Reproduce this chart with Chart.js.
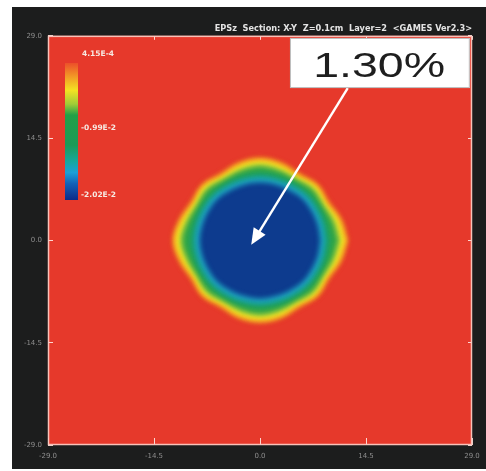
<!DOCTYPE html>
<html>
<head>
<meta charset="utf-8">
<script src="https://cdn.jsdelivr.net/npm/chart.js@4.4.1/dist/chart.umd.min.js"></script>
<style>
  html, body { margin: 0; padding: 0; background: #ffffff; }
  canvas { display: block; }
</style>
</head>
<body>
<canvas id="chart" width="486" height="471"></canvas>
<script>
// Axis ticks (cm)
const X_TICKS = [-29.0, -14.5, 0.0, 14.5, 29.0];
const Y_TICKS = [-29.0, -14.5, 0.0, 14.5, 29.0];

// Contour outlines: radius (cm) of each strain level, every 15 degrees from +x, counter-clockwise
const ANGLES_DEG = [0, 15, 30, 45, 60, 75, 90, 105, 120, 135, 150, 165, 180, 195, 210, 225, 240, 255, 270, 285, 300, 315, 330, 345];
const R_LEVEL_1 = [12.1, 11.65, 11.0, 11.3, 11.0, 11.5, 11.8, 11.5, 11.0, 11.3, 11.0, 11.55, 12.0, 11.55, 11.0, 11.3, 11.0, 11.5, 11.75, 11.5, 11.0, 11.3, 11.0, 11.6];
const R_LEVEL_2 = [11.85, 11.35, 10.7, 11.0, 10.7, 11.2, 11.5, 11.2, 10.7, 11.0, 10.7, 11.25, 11.75, 11.25, 10.7, 11.0, 10.7, 11.2, 11.45, 11.2, 10.7, 11.0, 10.7, 11.3];
const R_LEVEL_3 = [11.55, 11.05, 10.4, 10.75, 10.4, 10.9, 11.2, 10.9, 10.4, 10.75, 10.4, 10.95, 11.45, 10.95, 10.4, 10.75, 10.4, 10.9, 11.15, 10.9, 10.4, 10.75, 10.4, 11.0];
const R_LEVEL_4 = [11.0, 10.6, 10.1, 10.4, 10.1, 10.45, 10.75, 10.45, 10.1, 10.4, 10.1, 10.5, 10.95, 10.5, 10.1, 10.4, 10.1, 10.45, 10.7, 10.45, 10.1, 10.4, 10.1, 10.55];
const R_LEVEL_5 = [10.6, 10.2, 9.85, 10.1, 9.85, 10.1, 10.4, 10.1, 9.85, 10.1, 9.85, 10.15, 10.55, 10.15, 9.85, 10.1, 9.85, 10.1, 10.35, 10.1, 9.85, 10.1, 9.85, 10.15];
const R_LEVEL_6 = [9.45, 9.3, 9.25, 9.3, 9.25, 9.3, 9.4, 9.3, 9.25, 9.3, 9.25, 9.3, 9.45, 9.3, 9.25, 9.3, 9.25, 9.3, 9.4, 9.3, 9.25, 9.3, 9.25, 9.3];
const R_LEVEL_7 = [8.8, 8.75, 8.75, 8.85, 8.75, 8.75, 8.8, 8.75, 8.75, 8.85, 8.75, 8.75, 8.8, 8.75, 8.75, 8.85, 8.75, 8.75, 8.8, 8.75, 8.75, 8.85, 8.75, 8.75];
const R_LEVEL_8 = [8.15, 8.1, 8.1, 8.2, 8.1, 8.1, 8.15, 8.1, 8.1, 8.2, 8.1, 8.1, 8.15, 8.1, 8.1, 8.2, 8.1, 8.1, 8.15, 8.1, 8.1, 8.2, 8.1, 8.1];

// Colour bar
const CBAR_LABELS = ['4.15E-4', '-0.99E-2', '-2.02E-2'];

// Callout
const CALLOUT_TEXT = '1.30%';
const CALLOUT_BOX = [4.1, 28.7, 28.7, 21.6];   // x1, y1, x2, y2 (cm)
const CALLOUT_TEXT_AT = [16.3, 23.2];          // centre x, baseline y (cm)
const ARROW_FROM = [12.0, 21.6];
const ARROW_TO = [-1.2, -0.6];

const TITLE = 'EPSz  Section: X-Y  Z=0.1cm  Layer=2  <GAMES Ver2.3>';

// ---- styling ----
const LEVEL_RADII = [R_LEVEL_1, R_LEVEL_2, R_LEVEL_3, R_LEVEL_4, R_LEVEL_5, R_LEVEL_6, R_LEVEL_7, R_LEVEL_8];
const LEVEL_COLORS = ['#ee6a2a', '#f4a524', '#f5e423', '#b3d236', '#2ea549', '#179f78', '#1fa3c2', '#0d3b8e'];
const PLOT_RED = '#e6392b';
const PANEL_DARK = '#1c1d1d';

function outline(radii) {
  // close the loop by returning to the first angle
  const pts = ANGLES_DEG.map((a, i) => {
    const t = a * Math.PI / 180;
    return { x: radii[i] * Math.cos(t), y: radii[i] * Math.sin(t) };
  });
  pts.push(pts[0]);
  return pts;
}

// innermost level first so that it is drawn on top
const datasets = LEVEL_RADII.map((r, i) => ({
  data: outline(r),
  showLine: true,
  fill: 'shape',
  backgroundColor: LEVEL_COLORS[i],
  borderColor: LEVEL_COLORS[i],
  borderWidth: 1,
  pointRadius: 0,
  tension: 0.35
})).reverse();

const fieldPlugin = {
  id: 'field',
  beforeDraw(chart) {
    const { ctx, chartArea: a } = chart;
    ctx.save();
    ctx.fillStyle = '#ffffff';
    ctx.fillRect(0, 0, chart.width, chart.height);
    ctx.fillStyle = PANEL_DARK;
    ctx.fillRect(12, 7, chart.width - 12, chart.height - 9);
    ctx.fillStyle = PLOT_RED;
    ctx.fillRect(a.left, a.top, a.right - a.left, a.bottom - a.top);
    ctx.restore();
  },
  beforeDatasetsDraw(chart) {
    chart.ctx.save();
    chart.ctx.filter = 'blur(2px)';
  },
  afterDatasetsDraw(chart) {
    const { ctx, chartArea: a, scales } = chart;
    ctx.restore();
    const px = v => scales.x.getPixelForValue(v);
    const py = v => scales.y.getPixelForValue(v);

    // plot frame
    ctx.save();
    ctx.strokeStyle = 'rgba(250, 200, 192, 0.95)';
    ctx.lineWidth = 1.5;
    ctx.strokeRect(a.left + 0.5, a.top + 0.5, a.right - a.left - 1, a.bottom - a.top - 1);
    ctx.restore();

    // colour bar
    ctx.save();
    const bx = 65, bw = 13, by0 = 63, by1 = 200;
    const g = ctx.createLinearGradient(0, by0, 0, by1);
    g.addColorStop(0.00, '#ec4f2a');
    g.addColorStop(0.10, '#f29a26');
    g.addColorStop(0.20, '#f3e223');
    g.addColorStop(0.30, '#9fcc38');
    g.addColorStop(0.38, '#22a047');
    g.addColorStop(0.60, '#1b9a58');
    g.addColorStop(0.72, '#16a79e');
    g.addColorStop(0.80, '#1c9fd6');
    g.addColorStop(0.88, '#1262b8');
    g.addColorStop(1.00, '#0c2a88');
    ctx.fillStyle = g;
    ctx.fillRect(bx, by0, bw, by1 - by0);
    ctx.fillStyle = '#f7e9e2';
    ctx.font = 'bold 7.5px "DejaVu Sans"';
    ctx.textAlign = 'left';
    ctx.textBaseline = 'middle';
    ctx.fillText(CBAR_LABELS[0], 82, 54);
    ctx.fillText(CBAR_LABELS[1], 81, 128);
    ctx.fillText(CBAR_LABELS[2], 81, 195);
    ctx.restore();

    // callout arrow
    ctx.save();
    const x0 = px(ARROW_FROM[0]), y0 = py(ARROW_FROM[1]);
    const x1 = px(ARROW_TO[0]), y1 = py(ARROW_TO[1]);
    const ang = Math.atan2(y1 - y0, x1 - x0);
    const headLen = 16, headHalf = 7;
    ctx.strokeStyle = '#ffffff';
    ctx.fillStyle = '#ffffff';
    ctx.lineWidth = 2.4;
    ctx.beginPath();
    ctx.moveTo(x0, y0);
    ctx.lineTo(x1 - Math.cos(ang) * headLen * 0.8, y1 - Math.sin(ang) * headLen * 0.8);
    ctx.stroke();
    ctx.beginPath();
    ctx.moveTo(x1, y1);
    ctx.lineTo(x1 - Math.cos(ang) * headLen - Math.sin(ang) * headHalf, y1 - Math.sin(ang) * headLen + Math.cos(ang) * headHalf);
    ctx.lineTo(x1 - Math.cos(ang) * headLen + Math.sin(ang) * headHalf, y1 - Math.sin(ang) * headLen - Math.cos(ang) * headHalf);
    ctx.closePath();
    ctx.fill();
    ctx.restore();

    // callout box and text
    ctx.save();
    const bx1 = px(CALLOUT_BOX[0]), by1b = py(CALLOUT_BOX[1]);
    const bx2 = px(CALLOUT_BOX[2]), by2 = py(CALLOUT_BOX[3]);
    ctx.fillStyle = '#ffffff';
    ctx.fillRect(bx1, by1b, bx2 - bx1, by2 - by1b);
    ctx.strokeStyle = '#bdbdbd';
    ctx.lineWidth = 1;
    ctx.strokeRect(bx1 + 0.5, by1b + 0.5, bx2 - bx1 - 1, by2 - by1b - 1);
    ctx.translate(px(CALLOUT_TEXT_AT[0]), py(CALLOUT_TEXT_AT[1]));
    ctx.scale(1.33, 1);
    ctx.fillStyle = '#1e1e1e';
    ctx.font = '35px "Liberation Sans"';
    ctx.textAlign = 'center';
    ctx.textBaseline = 'alphabetic';
    ctx.fillText(CALLOUT_TEXT, 0, 0);
    ctx.restore();
  }
};

const tickFont = { family: 'DejaVu Sans', size: 7 };
const tickColor = '#8e8e8e';
const markColor = 'rgba(255, 232, 226, 0.9)';
const fmt = v => Number(v).toFixed(1);
// end labels may overhang the frame without shrinking the plot
const noOverhang = s => { s.paddingLeft = 0; s.paddingRight = 0; s.paddingTop = 0; s.paddingBottom = 0; };

new Chart(document.getElementById('chart'), {
  type: 'scatter',
  data: { datasets },
  options: {
    responsive: false,
    devicePixelRatio: 1,
    animation: false,
    events: [],
    layout: { padding: { left: 12, right: 14, top: 24.4, bottom: 6 } },
    plugins: {
      legend: { display: false },
      tooltip: { enabled: false },
      title: {
        display: true,
        text: TITLE,
        align: 'end',
        color: '#e4e4e4',
        font: { family: 'DejaVu Sans', size: 8.2, weight: 'bold', lineHeight: 1.2 },
        padding: { top: 0, bottom: 1.6 }
      }
    },
    scales: {
      x: {
        type: 'linear', position: 'bottom', min: -29, max: 29,
        afterBuildTicks: s => { s.ticks = X_TICKS.map(v => ({ value: v })); },
        afterFit: s => { s.height = 20; noOverhang(s); },
        ticks: { callback: fmt, color: tickColor, font: tickFont, padding: 14, maxRotation: 0 },
        grid: { drawOnChartArea: false, drawTicks: true, tickLength: -7, color: markColor },
        border: { display: false }
      },
      x2: {
        type: 'linear', position: 'top', min: -29, max: 29,
        afterBuildTicks: s => { s.ticks = X_TICKS.map(v => ({ value: v })); },
        afterFit: s => { s.height = 0; noOverhang(s); },
        ticks: { display: false },
        grid: { drawOnChartArea: false, drawTicks: true, tickLength: -4, color: markColor },
        border: { display: false }
      },
      y: {
        type: 'linear', position: 'left', min: -29, max: 29,
        afterBuildTicks: s => { s.ticks = Y_TICKS.map(v => ({ value: v })); },
        afterFit: s => { s.width = 36; noOverhang(s); },
        ticks: { callback: fmt, color: tickColor, font: tickFont, padding: 11 },
        grid: { drawOnChartArea: false, drawTicks: true, tickLength: -5, color: markColor },
        border: { display: false }
      },
      y2: {
        type: 'linear', position: 'right', min: -29, max: 29,
        afterBuildTicks: s => { s.ticks = Y_TICKS.map(v => ({ value: v })); },
        afterFit: s => { s.width = 0; noOverhang(s); },
        ticks: { display: false },
        grid: { drawOnChartArea: false, drawTicks: true, tickLength: -4, color: markColor },
        border: { display: false }
      }
    }
  },
  plugins: [fieldPlugin]
});
</script>
</body>
</html>
